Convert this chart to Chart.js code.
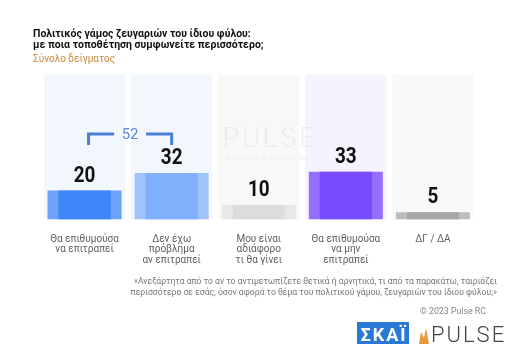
<!DOCTYPE html>
<html><head><meta charset="utf-8">
<script src="https://cdn.jsdelivr.net/npm/chart.js@4"></script>
<style>html,body{margin:0;padding:0;background:#fff}#wrap{position:relative;width:516px;height:344px}</style>
</head><body><div id="wrap"><canvas id="c" width="516" height="344"></canvas></div>
<script>
const categories = [["Θα επιθυμούσα","να επιτραπεί"],["Δεν έχω","πρόβλημα","αν επιτραπεί"],["Μου είναι","αδιάφορο","τι θα γίνει"],["Θα επιθυμούσα","να μην","επιτραπεί"],["ΔΓ / ΔΑ"]];
const values = [20, 32, 10, 33, 5];
const panelValues = [100, 100, 100, 100, 100];
const bracketTotal = 52;
const titleLines = ["Πολιτικός γάμος ζευγαριών του ίδιου φύλου:", "με ποια τοποθέτηση συμφωνείτε περισσότερο;"];
const subtitle = "Σύνολο δείγματος";
const footnote = ["«Ανεξάρτητα από το αν το αντιμετωπίζετε θετικά ή αρνητικά, τι από τα παρακάτω, ταιριάζει", "περισσότερο σε εσάς, όσον αφορά το θέμα του πολιτικού γάμου, ζευγαριών του ίδιου φύλου;»"];
const copyright = "© 2023 Pulse RC";

const innerColors = ["#3F86FA", "#80B0FB", "#DCDCDC", "#7A4CFF", "#A6A6A6"];
const outerColors = ["#6CA2F9", "#A0C3FB", "#E8E8E8", "#946EFF", "#BDBDBD"];
const panelColors = ["#F2F6FD", "#F2F6FD", "#F8F8F8", "#F5F3FD", "#F8F8FA"];

const F = "Roboto, 'Noto Sans', sans-serif";

const textPlugin = {
  id: 'texts',
  afterDatasetsDraw(chart) {
    const ctx = chart.ctx;
    const xs = chart.scales.x, ys = chart.scales.y;
    const meta = chart.getDatasetMeta(0);
    ctx.save();
    // watermark
    ctx.fillStyle = "rgba(228,228,231,0.6)";
    ctx.font = "300 27px " + F;
    ctx.textAlign = "center"; ctx.textBaseline = "alphabetic";
    ctx.letterSpacing = "3px";
    ctx.fillText("PULSE", 270, 147);
    ctx.font = "500 5px " + F;
    ctx.letterSpacing = "1px";
    ctx.fillText("RESEARCH & CONSULTING", 268, 160);
    ctx.letterSpacing = "0px";
    // value labels
    ctx.fillStyle = "#111";
    ctx.font = "bold 21px " + F;
    ctx.textAlign = "center"; ctx.textBaseline = "alphabetic";
    meta.data.forEach((el, i) => {
      ctx.save();
      ctx.translate(el.x, el.y - 9);
      ctx.scale(0.9, 1.05);
      ctx.fillText(String(values[i]), 0, 0);
      ctx.restore();
    });
    // bracket
    const x1 = meta.data[0].x + 4, x2 = meta.data[1].x;
    const yb = ys.getPixelForValue(59);
    ctx.strokeStyle = "#4A7FD8"; ctx.lineWidth = 3; ctx.lineCap = "butt";
    const mid = (x1 + x2) / 2;
    ctx.beginPath();
    ctx.moveTo(x1, yb + 11); ctx.lineTo(x1, yb); ctx.lineTo(mid - 16, yb);
    ctx.moveTo(mid + 16, yb); ctx.lineTo(x2, yb); ctx.lineTo(x2, yb + 11);
    ctx.stroke();
    ctx.fillStyle = "#5B8BDB";
    ctx.font = "15px " + F;
    ctx.textBaseline = "middle";
    ctx.fillText(String(bracketTotal), mid, yb + 1);
    // category labels
    ctx.fillStyle = "#5f5f5f";
    ctx.font = "10px " + F;
    ctx.textBaseline = "middle";
    categories.forEach((lines, i) => {
      const x = xs.getPixelForValue(i);
      lines.forEach((t, j) => ctx.fillText(t, x, 239 + j * 10.8));
    });
    // title
    ctx.textAlign = "left"; ctx.textBaseline = "alphabetic";
    ctx.fillStyle = "#111";
    ctx.font = "bold 10.5px " + F;
    ctx.fillText(titleLines[0], 33, 37);
    ctx.fillText(titleLines[1], 33, 48);
    ctx.fillStyle = "#C98A3C";
    ctx.font = "10px " + F;
    ctx.fillText(subtitle, 33, 62);
    // footnote
    ctx.textAlign = "right";
    ctx.fillStyle = "#777";
    ctx.font = "8.6px " + F;
    ctx.fillText(footnote[0], 497, 284);
    ctx.fillText(footnote[1], 497, 295);
    ctx.fillStyle = "#888";
    ctx.font = "8.8px " + F;
    ctx.fillText(copyright, 486, 314);
    // logos
    ctx.fillStyle = "#2A78D6";
    ctx.fillRect(357, 322, 52, 22);
    ctx.fillStyle = "#fff";
    ctx.textAlign = "center";
    ctx.font = "bold 18px " + F;
    ctx.letterSpacing = "2px";
    ctx.fillText("ΣΚΑΪ", 384, 341);
    ctx.fillStyle = "#E89A3A";
    ctx.beginPath();
    ctx.moveTo(419, 344); ctx.lineTo(421, 332); ctx.lineTo(424, 338); ctx.lineTo(426, 328); ctx.lineTo(429, 344);
    ctx.closePath(); ctx.fill();
    ctx.fillStyle = "#444";
    ctx.font = "300 22px " + F;
    ctx.letterSpacing = "2px";
    ctx.textAlign = "left";
    ctx.fillText("PULSE", 431, 342);
    ctx.restore();
  }
};

new Chart(document.getElementById('c'), {
  type: 'bar',
  data: {
    labels: categories.map(c => c.join(' ')),
    datasets: [
      { data: values, backgroundColor: innerColors, barPercentage: 0.6, categoryPercentage: 1, order: 1 },
      { data: values, backgroundColor: outerColors, barPercentage: 0.85, categoryPercentage: 1, order: 2 },
      { data: panelValues, backgroundColor: panelColors, barPercentage: 0.93, categoryPercentage: 1, order: 3 }
    ]
  },
  options: {
    responsive: false,
    animation: false,
    devicePixelRatio: 1,
    datasets: { bar: { grouped: false } },
    layout: { padding: { left: 41, right: 39.5, top: 74.5, bottom: 124.5 } },
    plugins: { legend: { display: false }, tooltip: { enabled: false } },
    scales: {
      x: { display: false },
      y: { display: false, min: 0, max: 100 }
    }
  },
  plugins: [textPlugin]
});
</script></body></html>
